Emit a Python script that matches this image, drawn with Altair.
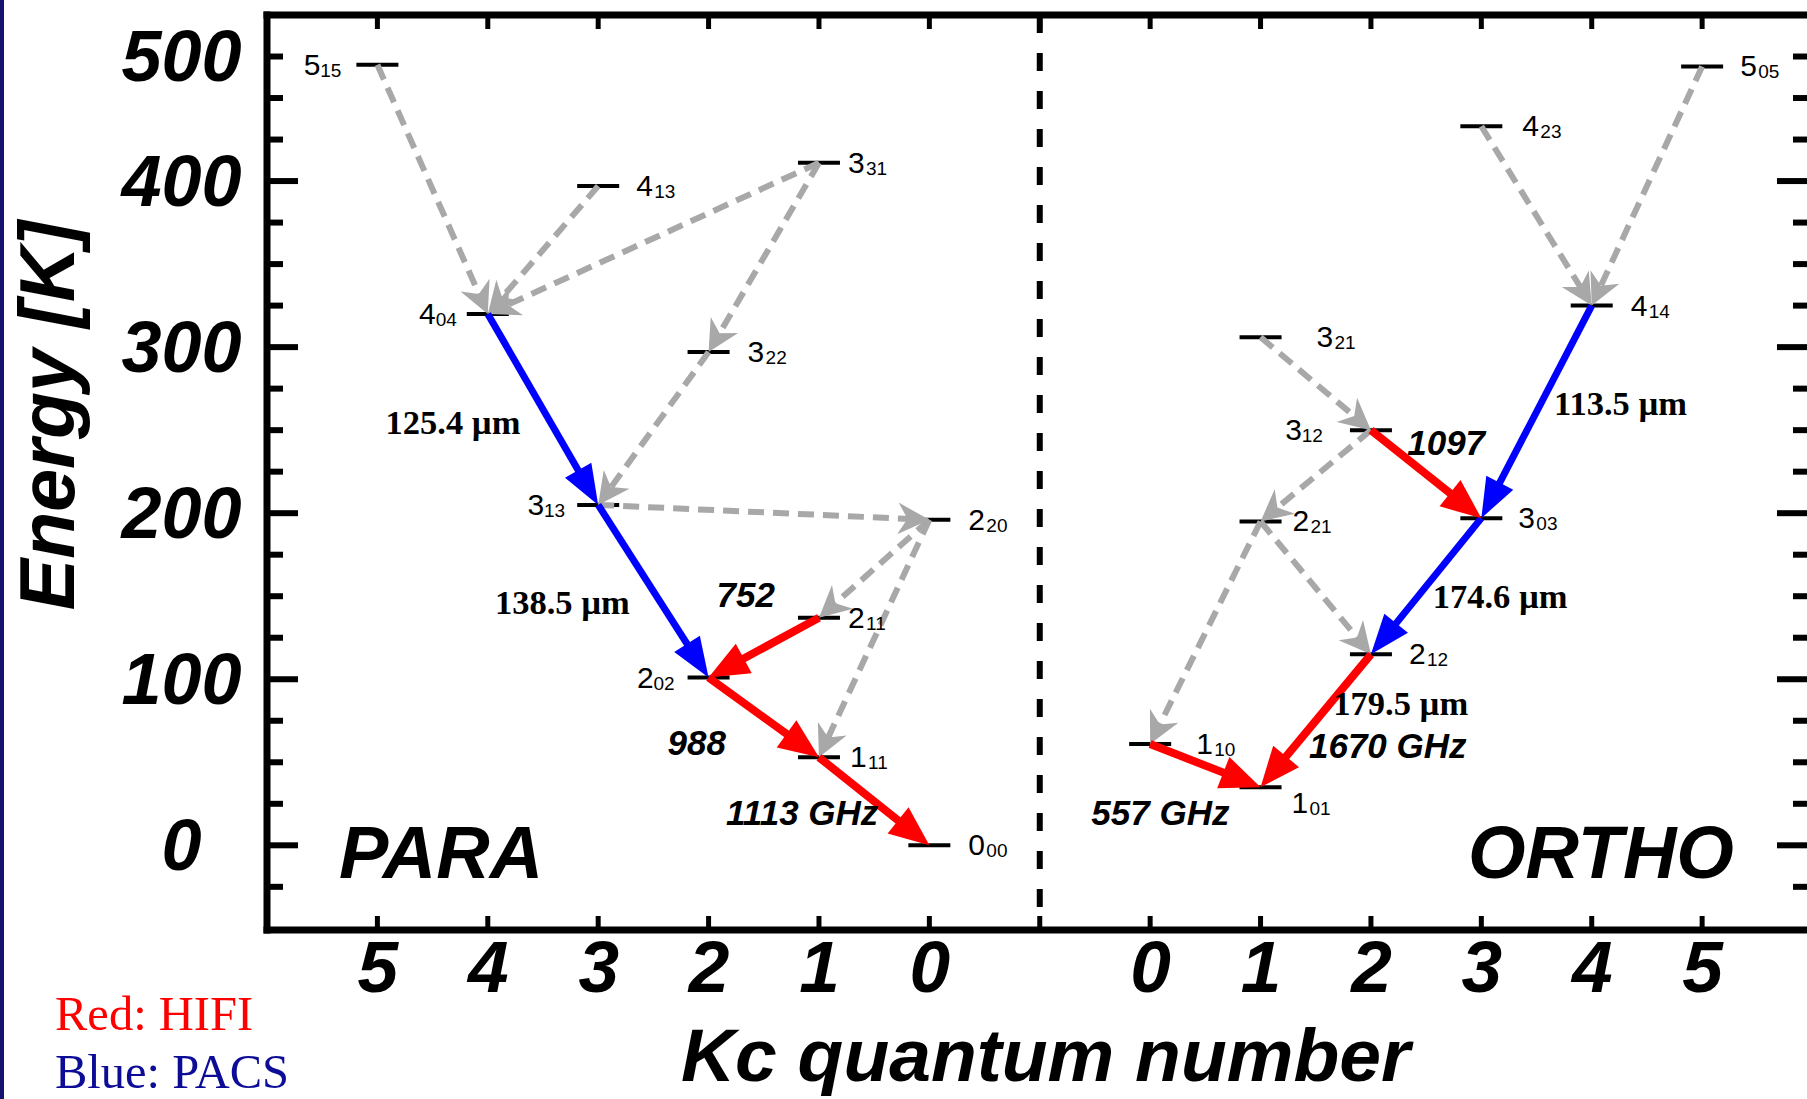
import math
import altair as alt
import pandas as pd

# ---------------- data ----------------
para_levels = ["5_15", "4_04", "4_13", "3_31", "3_22", "3_13", "2_20", "2_11", "2_02", "1_11", "0_00"]
para_kc = [5, 4, 3, 1, 2, 3, 0, 1, 2, 1, 0]
para_energy = [470, 320, 397, 411, 297, 205, 196, 137, 101, 53, 0]

ortho_levels = ["5_05", "4_23", "4_14", "3_21", "3_12", "3_03", "2_21", "2_12", "1_10", "1_01"]
ortho_kc = [5, 3, 4, 1, 2, 3, 1, 2, 0, 1]
ortho_energy = [469, 433, 325, 306, 250, 197, 195, 115, 61, 35]

gray_from = ["5_15", "4_13", "3_31", "3_31", "3_22", "3_13", "2_20", "2_20",
             "5_05", "4_23", "3_21", "3_12", "2_21", "2_21"]
gray_to = ["4_04", "4_04", "4_04", "3_22", "3_13", "2_20", "2_11", "1_11",
           "4_14", "4_14", "3_12", "2_21", "2_12", "1_10"]
blue_from = ["4_04", "3_13", "4_14", "3_03"]
blue_to = ["3_13", "2_02", "3_03", "2_12"]
red_from = ["2_11", "2_02", "1_11", "3_12", "2_12", "1_10"]
red_to = ["2_02", "1_11", "0_00", "3_03", "1_01", "1_01"]

wave_text = ["125.4 µm", "138.5 µm", "113.5 µm", "174.6 µm", "179.5 µm"]
wave_from = ["4_04", "3_13", "4_14", "3_03", "2_12"]
wave_to = ["3_13", "2_02", "3_03", "2_12", "1_01"]
freq_text = ["752", "988", "1113 GHz", "1097", "1670 GHz", "557 GHz"]
freq_from = ["2_11", "2_02", "1_11", "3_12", "2_12", "1_10"]
freq_to = ["2_02", "1_11", "0_00", "3_03", "1_01", "1_01"]

x_tick_labels = ["5", "4", "3", "2", "1", "0", "0", "1", "2", "3", "4", "5"]
y_major = [0, 100, 200, 300, 400]
y_minor = [-25, 25, 50, 75, 125, 150, 175, 225, 250, 275, 325, 350, 375, 425, 450, 475]
y_label_pos = [0, 100, 200, 300, 400, 475]
y_tick_labels = ["0", "100", "200", "300", "400", "500"]

# ---------------- layout / style ----------------
W, H = 1540, 915
XDOM = [0, 13.95]
YDOM = [-51, 500]
KX = W / (XDOM[1] - XDOM[0])
KY = H / (YDOM[1] - YDOM[0])
SANS = "Liberation Sans"
SERIF = "Liberation Serif"
HALF = 21  # half length of level bar in px

LEFT_LABEL = {"5_15", "4_04", "3_13", "2_02", "3_12"}
GAP = {"4_13": 17, "3_31": 8, "3_22": 18, "2_20": 18, "2_11": 8, "1_11": 10, "0_00": 18,
       "5_05": 17, "4_23": 20, "4_14": 18, "3_21": 35, "3_03": 16, "2_21": 11, "2_12": 17,
       "1_10": 25, "1_01": 10, "5_15": 15, "4_04": 10, "3_13": 12, "2_02": 13, "3_12": 27}
DROP = {"1_01": 16}
TEXT_OFF = {"125.4 µm": (-90, 25), "138.5 µm": (-91, 23), "113.5 µm": (84, 3),
            "174.6 µm": (74, 22), "179.5 µm": (85, -6), "752": (-18, -41), "988": (-67, 38),
            "1113 GHz": (-72, 24), "1097": (20, -19), "1670 GHz": (72, 37), "557 GHz": (-45, 59)}

# ---------------- tables ----------------
lev = {}
for n, k, e in zip(para_levels, para_kc, para_energy):
    lev[n] = (6 - k, e)
for n, k, e in zip(ortho_levels, ortho_kc, ortho_energy):
    lev[n] = (8 + k, e)
levels_df = pd.DataFrame([{"name": n, "p": v[0], "E": v[1]} for n, v in lev.items()])

label_rows = []
for n, (p, e) in lev.items():
    j, sub = n.split("_")
    g = GAP[n]
    ee = e - DROP.get(n, 0) / KY
    if n in LEFT_LABEL:
        label_rows.append(dict(x=p - (HALF + g) / KX, E=ee, t=sub, part="sub", side="L"))
        label_rows.append(dict(x=p - (HALF + g + 21) / KX, E=ee, t=j, part="main", side="L"))
    else:
        label_rows.append(dict(x=p + (HALF + g) / KX, E=ee, t=j, part="main", side="R"))
        label_rows.append(dict(x=p + (HALF + g + 18) / KX, E=ee, t=sub, part="sub", side="R"))
labels_df = pd.DataFrame(label_rows)


def arrows(froms, tos, shorten):
    rows = []
    for a, b in zip(froms, tos):
        p1, e1 = lev[a]
        p2, e2 = lev[b]
        dx = (p2 - p1) * KX
        dy = (e2 - e1) * KY
        L = math.hypot(dx, dy)
        rows.append(dict(p1=p1, e1=e1, p2=p2, e2=e2,
                         pe=p2 - dx / L * shorten / KX, ee=e2 - dy / L * shorten / KY,
                         ang=math.degrees(math.atan2(dx, dy)) % 360))
    return pd.DataFrame(rows)


def text_table(texts, froms, tos):
    rows = []
    for t, a, b in zip(texts, froms, tos):
        p1, e1 = lev[a]
        p2, e2 = lev[b]
        dx, dy = TEXT_OFF[t]
        rows.append(dict(t=t, x=(p1 + p2) / 2 + dx / KX, E=(e1 + e2) / 2 - dy / KY))
    return pd.DataFrame(rows)


wave_df = text_table(wave_text, wave_from, wave_to)
freq_df = text_table(freq_text, freq_from, freq_to)

# ---------------- scales / axes ----------------
XS = alt.Scale(domain=XDOM, nice=False, zero=False)
YS = alt.Scale(domain=YDOM, nice=False, zero=False)
xvals = [1, 2, 3, 4, 5, 6, 8, 9, 10, 11, 12, 13]
x_expr = "{" + ",".join(f"'{v}':'{t}'" for v, t in zip(xvals, x_tick_labels)) + "}[''+datum.value]"
y_expr = "{" + ",".join(f"'{v}':'{t}'" for v, t in zip(y_label_pos, y_tick_labels)) + "}[''+datum.value]"

XAX = alt.Axis(values=xvals, labelExpr=x_expr, ticks=False, tickSize=0, domain=False, grid=False,
               labelFont=SANS, labelFontSize=73, labelFontWeight="bold", labelFontStyle="italic",
               labelColor="black", labelPadding=3, labelBaseline="top", labelAlign="center",
               labelFlush=False, labelOverlap=False,
               title="Kc quantum number", titleFont=SANS, titleFontSize=75, titleFontWeight="bold",
               titleFontStyle="italic", titleColor="black", titleX=778, titleY=150,
               titleAlign="center", titleBaseline="alphabetic")
YAX = alt.Axis(values=y_label_pos, labelExpr=y_expr, ticks=False, tickSize=0, domain=False, grid=False,
               labelFont=SANS, labelFontSize=72, labelFontWeight="bold", labelFontStyle="italic",
               labelColor="black", labelPadding=86, labelAlign="center", labelBaseline="middle",
               labelOffset=2, labelFlush=False, labelOverlap=False,
               title="Energy [K]", titleFont=SANS, titleFontSize=77, titleFontWeight="bold",
               titleFontStyle="italic", titleColor="black", titleAngle=270, titleX=-194, titleY=400,
               titleAlign="center", titleBaseline="alphabetic")


def X(f):
    return alt.X(f, type="quantitative", scale=XS, axis=XAX)


def Y(f):
    return alt.Y(f, type="quantitative", scale=YS, axis=YAX)


one = pd.DataFrame({"a": [0]})
layers = []

# navy edge strip of the slide
layers.append(alt.Chart(one).mark_rule(color="#14146e", strokeWidth=4).encode(
    x=alt.value(-265), y=alt.value(-15), y2=alt.value(H + 169)))

# frame
for enc in [dict(x=alt.value(0), x2=alt.value(W), y=alt.value(0)),
            dict(x=alt.value(0), x2=alt.value(W), y=alt.value(H)),
            dict(x=alt.value(0), y=alt.value(0), y2=alt.value(H))]:
    layers.append(alt.Chart(one).mark_rule(color="black", strokeWidth=7, strokeCap="square").encode(**enc))

ymaj = pd.DataFrame({"E": y_major})
ymin = pd.DataFrame({"E": y_minor})
xt = pd.DataFrame({"p": list(range(1, 14))})
layers += [
    alt.Chart(ymaj).mark_rule(color="black", strokeWidth=6).encode(y=Y("E"), x=alt.value(0), x2=alt.value(31)),
    alt.Chart(ymin).mark_rule(color="black", strokeWidth=6).encode(y=Y("E"), x=alt.value(0), x2=alt.value(16)),
    alt.Chart(ymaj).mark_rule(color="black", strokeWidth=6).encode(y=Y("E"), x=alt.value(W - 30), x2=alt.value(W)),
    alt.Chart(ymin).mark_rule(color="black", strokeWidth=6).encode(y=Y("E"), x=alt.value(W - 14), x2=alt.value(W)),
    alt.Chart(xt).mark_rule(color="black", strokeWidth=5).encode(x=X("p"), y=alt.value(0), y2=alt.value(14)),
    alt.Chart(xt).mark_rule(color="black", strokeWidth=5).encode(x=X("p"), y=alt.value(H), y2=alt.value(H - 14)),
    alt.Chart(pd.DataFrame({"p": [7]})).mark_rule(color="black", strokeWidth=6, strokeDash=[18, 20]).encode(
        x=X("p"), y=alt.value(0), y2=alt.value(H)),
]

# energy levels
layers.append(alt.Chart(levels_df).mark_tick(orient="horizontal", size=42, thickness=4, color="black",
                                             opacity=1).encode(x=X("p"), y=Y("E")))

GRAY, RED, BLUE = "#a8a8a8", "#ff0000", "#0000ff"
gdf = arrows(gray_from, gray_to, 18)
bdf = arrows(blue_from, blue_to, 18)
rdf = arrows(red_from, red_to, 18)

layers.append(alt.Chart(gdf).mark_rule(color=GRAY, strokeWidth=6, strokeDash=[16, 9]).encode(
    x=X("p1"), y=Y("e1"), x2=alt.X2("pe"), y2=alt.Y2("ee")))
layers.append(alt.Chart(gdf).mark_point(shape="M0,0L0.58,1.15L0,0.8L-0.58,1.15Z", filled=True, color=GRAY,
                                        opacity=1, strokeWidth=0, size=3000).encode(
    x=X("p2"), y=Y("e2"), angle=alt.Angle("ang:Q", scale=None)))
for df, col, w, shp, sz in [(bdf, BLUE, 7, "M0,0L0.38,1L-0.38,1Z", 6400),
                            (rdf, RED, 8, "M0,0L0.42,1L-0.42,1Z", 6400)]:
    layers.append(alt.Chart(df).mark_rule(color=col, strokeWidth=w).encode(
        x=X("p1"), y=Y("e1"), x2=alt.X2("pe"), y2=alt.Y2("ee")))
    layers.append(alt.Chart(df).mark_point(shape=shp, filled=True, color=col, opacity=1, strokeWidth=0,
                                           size=sz).encode(
        x=X("p2"), y=Y("e2"), angle=alt.Angle("ang:Q", scale=None)))

# level labels
for part, side, align, fs, dy in [("main", "R", "left", 30, 10), ("sub", "R", "left", 19, 12),
                                  ("main", "L", "right", 30, 10), ("sub", "L", "right", 19, 12)]:
    layers.append(alt.Chart(labels_df).transform_filter(
        f"datum.part == '{part}' && datum.side == '{side}'").mark_text(
        font=SANS, fontSize=fs, align=align, baseline="alphabetic", dy=dy, color="black").encode(
        x=X("x"), y=Y("E"), text="t:N"))

# transition labels
layers.append(alt.Chart(wave_df).mark_text(font=SERIF, fontSize=34.5, fontWeight="bold", align="center",
                                           baseline="alphabetic", color="black").encode(
    x=X("x"), y=Y("E"), text="t:N"))
layers.append(alt.Chart(freq_df).mark_text(font=SANS, fontSize=35, fontWeight="bold", fontStyle="italic",
                                           align="center", baseline="alphabetic", color="black").encode(
    x=X("x"), y=Y("E"), text="t:N"))

# panel names
for txt, xx in [("PARA", 174), ("ORTHO", 1334)]:
    layers.append(alt.Chart(one).mark_text(text=txt, font=SANS, fontSize=74, fontWeight="bold",
                                           fontStyle="italic", align="center", baseline="alphabetic",
                                           color="black").encode(x=alt.value(xx), y=alt.value(863)))

# instrument key
for txt, col, yy in [("Red: HIFI", "#ff0000", 1015), ("Blue: PACS", "#0c0c96", 1073)]:
    layers.append(alt.Chart(one).mark_text(text=txt, font=SERIF, fontSize=48.5, align="left",
                                           baseline="alphabetic", color=col).encode(
        x=alt.value(-212), y=alt.value(yy)))

chart = alt.layer(*layers).properties(
    width=W, height=H,
    padding={"left": 267, "top": 15, "right": 0, "bottom": 169},
    autosize=alt.AutoSizeParams(type="none"),
    background="white",
).configure_view(strokeWidth=0)

chart.save("out.html", embed_options={"renderer": "svg", "actions": False})
